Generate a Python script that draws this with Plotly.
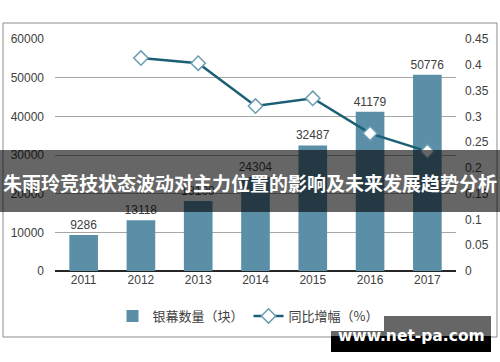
import plotly.graph_objects as go

years = ["2011", "2012", "2013", "2014", "2015", "2016", "2017"]
screens = [9286, 13118, 18100, 24304, 32487, 41179, 50776]
growth_years = ["2012", "2013", "2014", "2015", "2016", "2017"]
growth = [0.413, 0.403, 0.320, 0.335, 0.267, 0.232]

bar_name = "银幕数量（块）"
line_name = "同比增幅（%）"
banner_text = "朱雨玲竞技状态波动对主力位置的影响及未来发展趋势分析"
watermark = "www.net-pa.com"

L, R, T, B = 55, 456, 39, 271
def px(x):
    return (x - L) / (R - L)
def py(y):
    return (B - y) / (B - T)

num_font = "Liberation Sans, Arial, sans-serif"
cjk_font = "Noto Sans CJK SC, sans-serif"

fig = go.Figure()
fig.add_trace(go.Bar(
    x=years, y=screens, name=bar_name,
    marker=dict(color="#5b8fa8", line=dict(width=0)),
    width=0.5,
    text=[str(v) for v in screens], textposition="outside",
    constraintext="none",
    textfont=dict(family=num_font, size=12, color="#404040"),
    cliponaxis=False,
))
fig.add_trace(go.Scatter(
    x=growth_years, y=growth, name=line_name, yaxis="y2",
    mode="lines+markers",
    line=dict(color="#1b5f74", width=2.5),
    marker=dict(symbol="diamond", size=11, color="white",
                line=dict(color="#6a9db2", width=1.5)),
))

shapes = [
    dict(type="rect", xref="paper", yref="paper", x0=px(3), x1=px(497), y0=py(337), y1=py(23),
         line=dict(color="#8c8c8c", width=1), fillcolor="rgba(0,0,0,0)", layer="below"),
    dict(type="rect", xref="paper", yref="paper", x0=px(0), x1=px(500), y0=py(212), y1=py(150),
         line=dict(width=0), fillcolor="rgba(0,0,0,0.6)", layer="above"),
    dict(type="rect", xref="paper", yref="paper", x0=px(331), x1=px(491), y0=py(336), y1=py(316),
         line=dict(width=0), fillcolor="rgba(0,0,0,0.6)", layer="above"),
    dict(type="rect", xref="paper", yref="paper", x0=px(331), x1=px(491), y0=py(352), y1=py(336),
         line=dict(width=0), fillcolor="black", layer="above"),
]

annotations = [
    dict(text="<b>" + banner_text + "</b>", xref="paper", yref="paper", x=px(250), y=py(182),
         showarrow=False, xanchor="center", yanchor="middle",
         font=dict(family=cjk_font, size=19, color="white")),
    dict(text="<b>" + watermark + "</b>", xref="paper", yref="paper", x=px(411), y=py(336),
         showarrow=False, xanchor="center", yanchor="middle",
         font=dict(family="DejaVu Sans, sans-serif", size=15.5, color="white")),
]

fig.update_layout(
    width=500, height=362,
    margin=dict(l=L, r=500 - R, t=T, b=362 - B, pad=0, autoexpand=False),
    paper_bgcolor="white", plot_bgcolor="white",
    bargap=0.5,
    showlegend=True,
    legend=dict(orientation="h", x=px(248), y=py(316), xanchor="center", yanchor="middle",
                font=dict(family=cjk_font, size=13, color="#404040"),
                itemwidth=30, tracegroupgap=0),
    xaxis=dict(type="category", showgrid=False, showline=False, ticks="",
               tickfont=dict(family=num_font, size=12, color="#404040")),
    yaxis=dict(range=[0, 60000], dtick=10000, tickformat="d", showgrid=True, gridcolor="#a6a6a6", gridwidth=1,
               zeroline=True, zerolinecolor="#262626", zerolinewidth=1.5,
               showline=False, ticks="", ticklabelstandoff=10,
               tickfont=dict(family=num_font, size=12, color="#404040")),
    yaxis2=dict(range=[0, 0.45], dtick=0.05, overlaying="y", side="right", showgrid=False,
                zeroline=False, showline=False, ticks="", ticklabelstandoff=8,
                tickfont=dict(family=num_font, size=12, color="#404040")),
    shapes=shapes,
    annotations=annotations,
)

fig.write_html("out.html", config={"displayModeBar": False},
               post_script="document.body.style.margin='0';document.body.style.padding='0';")
